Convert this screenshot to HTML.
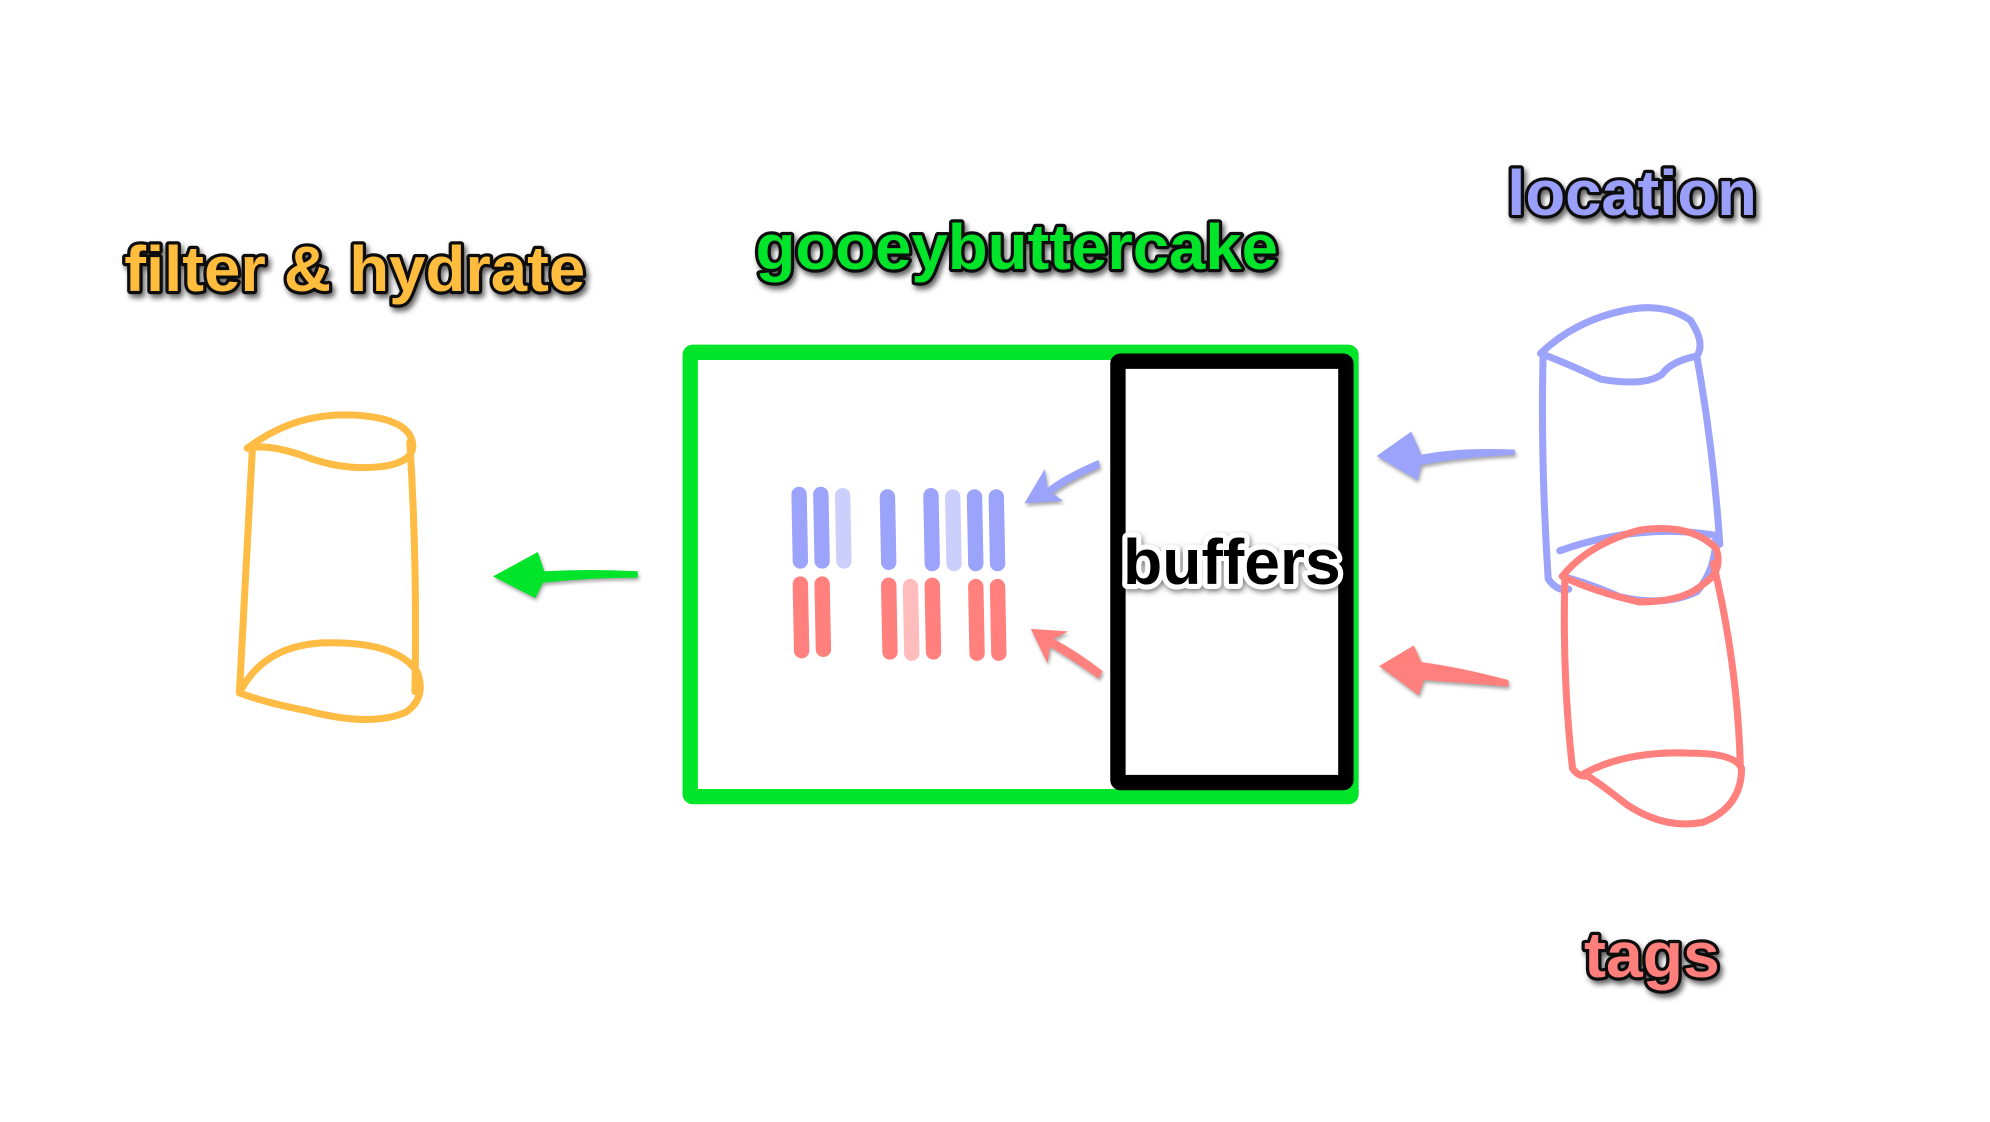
<!DOCTYPE html>
<html><head><meta charset="utf-8"><style>
html,body{margin:0;padding:0;background:#fff;}
svg{display:block;}
text{font-family:"Liberation Sans",sans-serif;font-weight:bold;paint-order:stroke;stroke:#111;stroke-width:5;stroke-linejoin:round;}
</style></head><body>
<svg width="1990" height="1122" viewBox="0 0 1554 876" xmlns="http://www.w3.org/2000/svg">
<defs>
<filter id="sh" x="-10%" y="-30%" width="120%" height="160%"><feDropShadow dx="2" dy="3" stdDeviation="2" flood-color="#000" flood-opacity="0.6"/></filter>
</defs>
<!-- titles -->
<text x="97" y="227" font-size="50" fill="#FFBC3C" textLength="360" lengthAdjust="spacingAndGlyphs" filter="url(#sh)">filter &amp; hydrate</text>
<text x="590" y="210" font-size="50" fill="#00E42A" textLength="408" lengthAdjust="spacingAndGlyphs" filter="url(#sh)">gooeybuttercake</text>
<text x="1177" y="168" font-size="50" fill="#9AA0FA" textLength="195" lengthAdjust="spacingAndGlyphs" filter="url(#sh)">location</text>
<text x="1237" y="763" font-size="50" fill="#FF7F7B" textLength="106" lengthAdjust="spacingAndGlyphs" filter="url(#sh)">tags</text>

<!-- green box -->
<rect x="539" y="275" width="516" height="347" fill="none" stroke="#00E42A" stroke-width="12" rx="2"/>
<!-- black box -->
<rect x="873" y="282" width="178" height="329" fill="none" stroke="#000" stroke-width="12" rx="2"/>
<text x="962" y="456" font-size="50" fill="#000" text-anchor="middle" textLength="170" lengthAdjust="spacingAndGlyphs" style="stroke:#fff;stroke-width:8;filter:drop-shadow(1px 2px 2px rgba(0,0,0,.5))">buffers</text>

<!-- bars -->
<g stroke-linecap="round" stroke-width="12" fill="none">
<g stroke="#9CA3FB">
<line x1="624" y1="386" x2="625" y2="438"/><line x1="641" y1="386" x2="642" y2="438"/>
<line x1="693" y1="388" x2="694" y2="439"/><line x1="727" y1="387" x2="728" y2="440"/>
<line x1="761" y1="388" x2="762" y2="440"/><line x1="778" y1="388" x2="779" y2="440"/>
</g>
<g stroke="#CCCFFC">
<line x1="658" y1="387" x2="659" y2="438"/><line x1="744" y1="388" x2="745" y2="440"/>
</g>
<g stroke="#FF807C">
<line x1="625" y1="456" x2="626" y2="508"/><line x1="642" y1="456" x2="643" y2="507"/>
<line x1="694" y1="457" x2="695" y2="509"/><line x1="728" y1="457" x2="729" y2="509"/>
<line x1="762" y1="458" x2="763" y2="510"/><line x1="779" y1="458" x2="780" y2="510"/>
</g>
<g stroke="#FEBDBC"><line x1="711" y1="458" x2="712" y2="510"/></g>
</g>

<!-- arrows -->
<g stroke-linejoin="round" style="filter:drop-shadow(1px 2px 1.5px rgba(0,0,0,.35))">
<path d="M498 446 Q460 444 425 446 L420 431 L385 450 L418 467 L424 455 Q460 451 498 451 Z" fill="#00E42A"/>
<path d="M1183 351 Q1140 349 1110 355 L1102 337 L1075 356 L1107 375 L1110 363 Q1140 357 1183 355 Z" fill="#9CA3FB"/>
<path d="M1178 531 Q1140 521 1110 517 L1104 504 L1077 520 L1108 543 L1112 531 Q1140 533 1178 536 Z" fill="#FF807C"/>
<path d="M858 359 Q830 371 818 381 L816 366 L800 393 L830 391 L822 385 Q836 375 859 365 Z" fill="#9CA3FB"/>
<path d="M861 524 Q842 509 823 499 L834 493 L805 491 L818 518 L820 505 Q840 517 858 530 Z" fill="#FF807C"/>
</g>

<!-- cylinders -->
<g fill="none" stroke-width="5.5" stroke-linecap="round" stroke-linejoin="round">
<g stroke="#FFBC44">
<path d="M193 350 Q230 322 275 324 Q318 326 322 345 Q325 360 300 364 Q270 368 240 357 Q210 346 193 350 Z"/>
<path d="M197 352 L187 540"/>
<path d="M320 345 Q326 440 324 540"/>
<path d="M187 541 Q205 505 250 502 Q310 500 326 525 Q333 545 317 556 Q290 568 240 555 Q205 548 187 541"/>
</g>
<g stroke="#9CA3FB">
<path d="M1203 276 Q1230 250 1270 242 Q1300 236 1320 250 Q1332 268 1325 278 Q1305 282 1298 292 Q1285 302 1250 296 Q1220 282 1203 276 Z"/>
<path d="M1205 278 Q1203 360 1209 452 Q1216 462 1225 460"/>
<path d="M1325 278 Q1338 350 1343 425"/>
<path d="M1218 430 Q1280 408 1340 418 Q1340 445 1325 462 Q1300 474 1265 466 Q1240 455 1220 450"/>
</g>
<g stroke="#FF807C">
<path d="M1220 450 Q1240 425 1280 414 Q1320 408 1340 428 Q1346 446 1330 456 Q1315 470 1280 470 Q1245 462 1220 450 Z"/>
<path d="M1222 452 Q1220 530 1228 600 Q1232 606 1238 606"/>
<path d="M1338 440 Q1357 520 1359 598"/>
<path d="M1237 604 Q1270 586 1320 588 Q1355 588 1360 600 Q1360 630 1330 642 Q1300 648 1270 628 Q1250 612 1237 604"/>
</g>
</g>
</svg>
</body></html>
